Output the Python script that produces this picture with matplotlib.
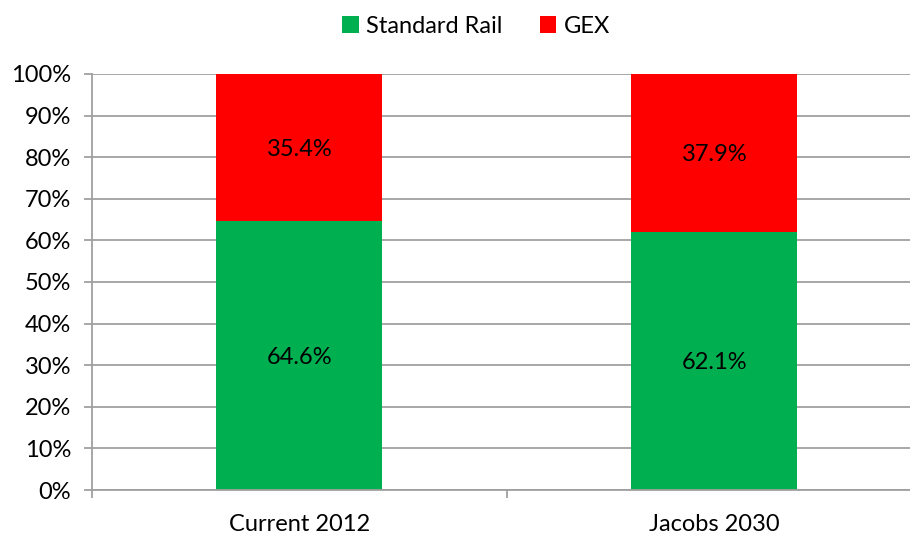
import numpy as np
import matplotlib.pyplot as plt

plt.rcParams['font.family'] = ['Lato', 'DejaVu Sans']

categories = ['Current 2012', 'Jacobs 2030']
standard_rail = [64.6, 62.1]
gex = [35.4, 37.9]
yticks = [0, 10, 20, 30, 40, 50, 60, 70, 80, 90, 100]

green = '#00B050'
red = '#FF0000'
grey = '#A0A0A0'
fs = 17

fig = plt.figure(figsize=(9.1, 5.36), dpi=100)
ax = fig.add_axes([0.1011, 0.0858, 0.912, 0.7762])

x = np.arange(len(categories)) + 0.5
b1 = ax.bar(x, standard_rail, width=0.4, color=green, label='Standard Rail', zorder=2)
b2 = ax.bar(x, gex, width=0.4, bottom=standard_rail, color=red, label='GEX', zorder=2)

for xi, s, g in zip(x, standard_rail, gex):
    ax.text(xi, s / 2, f'{s:.1f}%', ha='center', va='center_baseline', fontsize=fs, zorder=3)
    ax.text(xi, s + g / 2, f'{g:.1f}%', ha='center', va='center_baseline', fontsize=fs, zorder=3)

ax.set_xlim(0, len(categories))
ax.set_ylim(0, 100)
ax.set_yticks(yticks)
ax.set_yticklabels([f'{v}%' for v in yticks], fontsize=fs)
ax.yaxis.grid(True, color=grey, linewidth=1.3, zorder=0)
ax.set_axisbelow(True)

# category labels sit between the boundary ticks
ax.set_xticks([0, 1, 2])
ax.set_xticklabels([])
ax.set_xticks(x, minor=True)
ax.set_xticklabels(categories, minor=True, fontsize=fs)
ax.tick_params(axis='x', which='minor', length=0, pad=17)
ax.tick_params(axis='x', which='major', length=6, color=grey, width=1.3)
ax.tick_params(axis='y', length=6, color=grey, width=1.3, pad=9)

for side in ['top', 'right']:
    ax.spines[side].set_visible(False)
ax.spines['left'].set_color(grey)
ax.spines['bottom'].set_color(grey)
ax.spines['left'].set_linewidth(1.3)
ax.spines['bottom'].set_linewidth(1.3)

fig.legend(handles=[b1, b2], loc='upper center', bbox_to_anchor=(0.523, 1.01), ncol=2,
           frameon=False, fontsize=fs, handlelength=0.7, handleheight=0.7,
           handletextpad=0.3, columnspacing=1.6)

fig.savefig('out.png', dpi=100)
